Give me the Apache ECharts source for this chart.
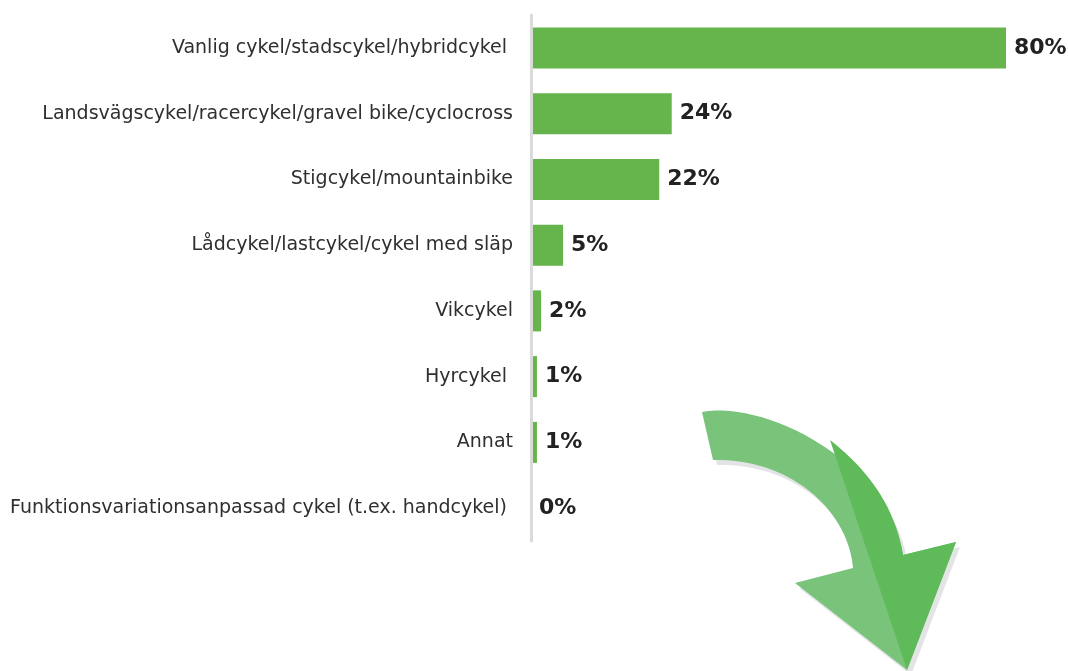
<!DOCTYPE html>
<html>
<head>
<meta charset="utf-8">
<script src="https://cdn.jsdelivr.net/npm/echarts@6/dist/echarts.min.js"></script>
<style>
  html, body { margin: 0; padding: 0; background: #fff; }
  #chart { width: 1068px; height: 671px; }
</style>
</head>
<body>
<div id="chart"></div>
<script>
// kategorier (uppifrån och ned)
var categories = [
    'Vanlig cykel/stadscykel/hybridcykel ',
    'Landsvägscykel/racercykel/gravel bike/cyclocross',
    'Stigcykel/mountainbike',
    'Lådcykel/lastcykel/cykel med släp',
    'Vikcykel',
    'Hyrcykel ',
    'Annat',
    'Funktionsvariationsanpassad cykel (t.ex. handcykel) '
];
// andel i procent, avläst från stapellängderna
var shares = [80, 23.7, 21.6, 5.4, 1.7, 1.0, 1.0, 0];

var myChart = echarts.init(document.getElementById('chart'));

// kubisk bezier -> punkter (för den dekorativa pilen)
function bezier(p0, p1, p2, p3, n) {
    var pts = [];
    for (var i = 0; i <= n; i++) {
        var t = i / n, u = 1 - t;
        pts.push([
            u * u * u * p0[0] + 3 * u * u * t * p1[0] + 3 * u * t * t * p2[0] + t * t * t * p3[0],
            u * u * u * p0[1] + 3 * u * u * t * p1[1] + 3 * u * t * t * p2[1] + t * t * t * p3[1]
        ]);
    }
    return pts;
}

var outer = bezier([702, 412], [765, 400], [888, 462], [903, 555], 30);
var inner = bezier([853, 568], [848, 510], [790, 458], [713, 460], 30);
var arrowPts = outer.concat([[956, 542], [907, 670], [795, 583]]).concat(inner);
var darkPts = bezier([830, 440], [866, 468], [895, 505], [903, 555], 20)
    .concat([[956, 542], [907, 670]]);

var option = {
    animation: false,
    backgroundColor: '#ffffff',
    grid: {
        left: 531,
        top: 15,
        right: 62,
        height: 526
    },
    xAxis: {
        type: 'value',
        min: 0,
        max: 80,
        show: false
    },
    yAxis: {
        type: 'category',
        inverse: true,
        data: categories,
        z: 5,
        axisLine: {
            lineStyle: { color: '#dadada', width: 3 }
        },
        axisTick: { show: false },
        axisLabel: {
            margin: 18,
            fontFamily: 'DejaVu Sans',
            fontSize: 19,
            color: '#2f2f2f'
        }
    },
    series: [{
        type: 'bar',
        data: shares,
        barWidth: 41,
        itemStyle: { color: '#66b54c' },
        label: {
            show: true,
            position: 'right',
            distance: 8,
            fontFamily: 'DejaVu Sans',
            fontWeight: 'bold',
            fontSize: 22,
            color: '#222222',
            formatter: function(p) {
                return Math.round(p.value) + '%';
            }
        }
    }],
    graphic: [{
        type: 'polygon',
        x: 4, y: 5,
        shape: { points: arrowPts },
        style: { fill: '#e3e4e6' },
        z: 1
    }, {
        type: 'polygon',
        shape: { points: arrowPts },
        style: { fill: '#79c47a' },
        z: 2
    }, {
        type: 'polygon',
        shape: { points: darkPts },
        style: { fill: '#5fba59' },
        z: 3
    }]
};

myChart.setOption(option);
</script>
</body>
</html>
